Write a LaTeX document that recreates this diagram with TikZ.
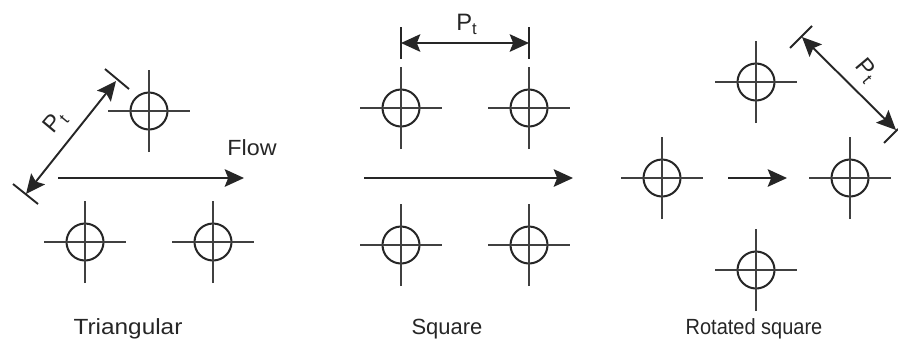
\documentclass[tikz,border=0pt]{standalone}
\usepackage{fontspec}
\setmainfont{Liberation Sans}
\usetikzlibrary{arrows.meta}

\begin{document}
\begin{tikzpicture}[
  x=0.02cm, y=-0.02cm,
  every node/.style={font=\fontsize{12.5}{15}\selectfont, text=black!85},
  tube/.style={circle, draw=black!85, line width=1.15pt, minimum size=0.74cm, inner sep=0pt},
  arm/.style={draw=black!75, line width=1pt},
  arr/.style={-{Stealth[length=11pt, width=10pt, inset=2pt]}, draw=black!85, line width=1.1pt},
  dim/.style={{Stealth[length=11pt, width=10pt, inset=2pt]}-{Stealth[length=11pt, width=10pt, inset=2pt]}, draw=black!85, line width=1.1pt},
  tick/.style={draw=black!85, line width=1.1pt},
  pitch/.style={font=\fontsize{13.5}{15}\selectfont}
]
\useasboundingbox (0,0) rectangle (898,343);

% triangular layout
\node[tube] (tri1) at (149, 111) {};
\node[tube] (tri2) at (85, 242) {};
\node[tube] (tri3) at (213, 242) {};

% square layout
\node[tube] (sq1) at (401, 108) {};
\node[tube] (sq2) at (529, 108) {};
\node[tube] (sq3) at (401, 245) {};
\node[tube] (sq4) at (529, 245) {};

% rotated square layout
\node[tube] (rot1) at (756, 82) {};
\node[tube] (rot2) at (662, 178) {};
\node[tube] (rot3) at (850, 178) {};
\node[tube] (rot4) at (756, 270) {};

% cross lines through every tube
\foreach \n in {tri1, tri2, tri3, sq1, sq2, sq3, sq4, rot1, rot2, rot3, rot4} {
  \draw[arm] ([xshift=-0.82cm]\n.center) -- ([xshift=0.82cm]\n.center);
  \draw[arm] ([yshift=-0.82cm]\n.center) -- ([yshift=0.82cm]\n.center);
}

% flow arrows
\coordinate (triA) at (58, 178);
\coordinate (triB) at (244, 178);
\coordinate (sqA) at (364, 178);
\coordinate (sqB) at (573, 178);
\coordinate (rotA) at (728, 178);
\coordinate (rotB) at (787, 178);
\draw[arr] (triA) -- (triB);
\draw[arr] (sqA) -- (sqB);
\draw[arr] (rotA) -- (rotB);

% pitch, triangular
\coordinate (triP) at (116, 81);
\coordinate (triQ) at (26, 194);
\coordinate (triPa) at (105, 69);
\coordinate (triPb) at (129, 89);
\coordinate (triQa) at (13, 184);
\coordinate (triQb) at (38, 204);
\draw[tick] (triPa) -- (triPb);
\draw[tick] (triQa) -- (triQb);
\draw[dim] (triQ) -- (triP);
\node[pitch, rotate=50] (triPt) at (56, 122) {P\textsubscript{t}};

% pitch, square
\coordinate (sqP) at (401, 43);
\coordinate (sqQ) at (529, 43);
\coordinate (sqPa) at (401, 27);
\coordinate (sqPb) at (401, 59);
\coordinate (sqQa) at (529, 27);
\coordinate (sqQb) at (529, 59);
\draw[tick] (sqPa) -- (sqPb);
\draw[tick] (sqQa) -- (sqQb);
\draw[dim] (sqP) -- (sqQ);
\node[pitch] (sqPt) at (467, 24) {P\textsubscript{t}};

% pitch, rotated square
\coordinate (rotP) at (802, 37);
\coordinate (rotQ) at (896, 130);
\coordinate (rotPa) at (790, 48);
\coordinate (rotPb) at (812, 26);
\coordinate (rotQa) at (884, 143);
\coordinate (rotQb) at (898, 129);
\draw[tick] (rotPa) -- (rotPb);
\draw[tick] (rotQa) -- (rotQb);
\draw[dim] (rotP) -- (rotQ);
\node[pitch, rotate=-50] (rotPt) at (866, 71) {P\textsubscript{t}};

% captions
\node[transform shape, xscale=1.06] (flow) at (252, 148) {Flow};
\node[transform shape, xscale=1.11] (triCap) at (128, 329) {Triangular};
\node (sqCap) at (447, 329) {Square};
\node[transform shape, xscale=0.91] (rotCap) at (754, 329) {Rotated square};

\end{tikzpicture}
\end{document}
